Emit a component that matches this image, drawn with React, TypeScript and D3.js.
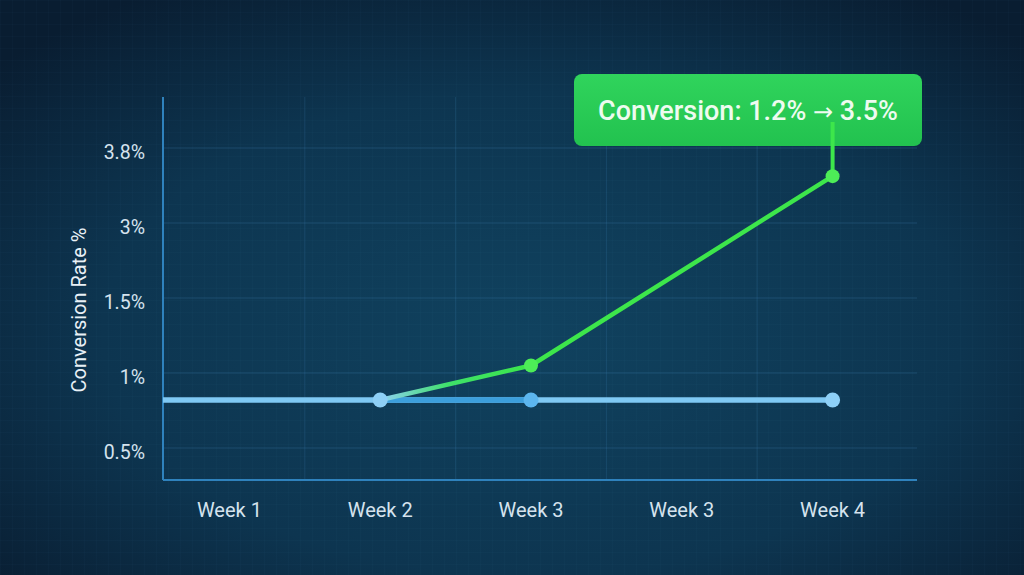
import React, { useEffect, useRef } from "react";
import * as d3 from "d3";

const weeks = ["Week 1", "Week 2", "Week 3", "Week 3", "Week 4"];
const yTicks = [0.5, 1, 1.5, 3, 3.8];
const baselineValues = [0.82, 0.82, 0.82, 0.82, 0.82];
const baselineMarked = [false, true, true, false, true];
const improvedValues = [null, 0.82, 1.05, null, 3.5];
const annotationParts = ["Conversion: 1.2% ", "\u2192", " 3.5%"];
const yLabel = "Conversion Rate %";

const App = () => {
    const svgRef = useRef<SVGSVGElement>(null);

    useEffect(() => {
        const svg = d3.select(svgRef.current);
        svg.selectAll("*").remove();

        const width = 1024;
        const height = 575;
        const plot = { left: 163, right: 917, top: 97, bottom: 480 };
        const font = "Roboto, 'Noto Sans', sans-serif";

        svg.attr("width", width).attr("height", height);

        // Background
        const defs = svg.append("defs");
        const bg = defs.append("radialGradient").attr("id", "bg")
            .attr("cx", "52%").attr("cy", "58%").attr("r", "70%");
        bg.append("stop").attr("offset", "0%").attr("stop-color", "#10425f");
        bg.append("stop").attr("offset", "60%").attr("stop-color", "#0d3550");
        bg.append("stop").attr("offset", "100%").attr("stop-color", "#091d31");

        const fine = defs.append("pattern").attr("id", "fine")
            .attr("width", 12).attr("height", 12).attr("patternUnits", "userSpaceOnUse");
        fine.append("path").attr("d", "M12 0 L0 0 0 12")
            .attr("fill", "none").attr("stroke", "#5aa8d8").attr("stroke-opacity", 0.04);

        const segGrad = defs.append("linearGradient").attr("id", "seg")
            .attr("gradientUnits", "userSpaceOnUse");

        const boxGrad = defs.append("linearGradient").attr("id", "boxg")
            .attr("x1", 0).attr("x2", 0).attr("y1", 0).attr("y2", 1);
        boxGrad.append("stop").attr("offset", "0%").attr("stop-color", "#30d45c");
        boxGrad.append("stop").attr("offset", "100%").attr("stop-color", "#22c24f");

        svg.append("rect").attr("width", width).attr("height", height).attr("fill", "url(#bg)");
        svg.append("rect").attr("width", width).attr("height", height).attr("fill", "url(#fine)");

        // Scales
        const x = d3.scaleBand<number>()
            .domain(d3.range(weeks.length))
            .range([154, 908]);
        const cx = (i: number) => (x(i) as number) + x.bandwidth() / 2;

        // tick labels are evenly spaced, so the y scale is piecewise linear
        const y = d3.scaleLinear()
            .domain([0.29, ...yTicks, 4.34])
            .range([480, 448, 373, 298, 223, 148, 97]);

        // Grid
        const grid = svg.append("g");
        grid.selectAll("line.h").data(yTicks).join("line")
            .attr("x1", plot.left).attr("x2", plot.right)
            .attr("y1", (d) => y(d)).attr("y2", (d) => y(d))
            .attr("stroke", "#3f86b8").attr("stroke-opacity", 0.28).attr("stroke-width", 1);
        grid.selectAll("line.v").data(d3.range(1, weeks.length)).join("line")
            .attr("x1", (i) => x(i) as number).attr("x2", (i) => x(i) as number)
            .attr("y1", plot.top).attr("y2", plot.bottom)
            .attr("stroke", "#3f86b8").attr("stroke-opacity", 0.2).attr("stroke-width", 1);

        // Axes lines
        svg.append("line")
            .attr("x1", plot.left).attr("x2", plot.left)
            .attr("y1", plot.top).attr("y2", plot.bottom)
            .attr("stroke", "#2f82bd").attr("stroke-width", 2);
        svg.append("line")
            .attr("x1", plot.left).attr("x2", plot.right)
            .attr("y1", plot.bottom).attr("y2", plot.bottom)
            .attr("stroke", "#2f82bd").attr("stroke-width", 2);

        // Tick labels
        svg.append("g").selectAll("text").data(yTicks).join("text")
            .attr("x", 145)
            .attr("y", (d) => y(d) + 11)
            .attr("text-anchor", "end")
            .style("font-family", font)
            .style("font-size", "19.5px")
            .attr("fill", "#d5e3ee")
            .text((d) => `${d}%`);

        svg.append("g").selectAll("text").data(weeks).join("text")
            .attr("x", (_, i) => cx(i))
            .attr("y", 517)
            .attr("text-anchor", "middle")
            .style("font-family", font)
            .style("font-size", "20px")
            .attr("fill", "#d5e3ee")
            .text((d) => d);

        svg.append("text")
            .attr("transform", `translate(86, 310) rotate(-90)`)
            .attr("text-anchor", "middle")
            .style("font-family", font)
            .style("font-size", "20px")
            .attr("fill", "#e8f0f6")
            .text(yLabel);

        // Baseline (blue)
        const blueLine = d3.line<[number, number]>().x((d) => d[0]).y((d) => d[1]);
        const bluePts: [number, number][] = baselineValues.map((v, i) => [cx(i), y(v)]);
        bluePts[0] = [plot.left, y(baselineValues[0])];
        svg.append("path")
            .attr("d", blueLine(bluePts))
            .attr("fill", "none")
            .attr("stroke", "#7fc9f4")
            .attr("stroke-width", 5.5);
        // darker segment between Week 2 and Week 3
        svg.append("path")
            .attr("d", blueLine([bluePts[1], bluePts[2]]))
            .attr("fill", "none")
            .attr("stroke", "#3c9fdc")
            .attr("stroke-width", 5.5);

        // Improved (green)
        const greenData = improvedValues
            .map((v, i) => ({ i, v }))
            .filter((d) => d.v !== null) as { i: number; v: number }[];
        segGrad.attr("x1", cx(greenData[0].i)).attr("x2", cx(greenData[1].i))
            .attr("y1", 0).attr("y2", 0);
        segGrad.append("stop").attr("offset", "0%").attr("stop-color", "#8fd0f4");
        segGrad.append("stop").attr("offset", "45%").attr("stop-color", "#3fe06a");
        segGrad.append("stop").attr("offset", "100%").attr("stop-color", "#3be64a");

        const greenLine = d3.line<{ i: number; v: number }>()
            .x((d) => cx(d.i)).y((d) => y(d.v));
        svg.append("path")
            .attr("d", greenLine(greenData.slice(0, 2)))
            .attr("fill", "none")
            .attr("stroke", "url(#seg)")
            .attr("stroke-width", 4.5)
            .attr("stroke-linecap", "round");
        svg.append("path")
            .attr("d", greenLine(greenData.slice(1)))
            .attr("fill", "none")
            .attr("stroke", "#3de64b")
            .attr("stroke-width", 4.5)
            .attr("stroke-linecap", "round");

        // Blue points
        const bluePoints = baselineValues
            .map((v, i) => ({ i, v }))
            .filter((d) => baselineMarked[d.i]);
        svg.append("g").selectAll("circle").data(bluePoints).join("circle")
            .attr("cx", (d) => cx(d.i))
            .attr("cy", (d) => y(d.v))
            .attr("r", 7.5)
            .attr("fill", (d) => (d.i === 2 ? "#5cb6ef" : "#8ed0f7"));

        // Annotation
        const last = greenData[greenData.length - 1];
        const box = { x: 574, y: 74, w: 348, h: 72 };
        svg.append("rect")
            .attr("x", box.x).attr("y", box.y)
            .attr("width", box.w).attr("height", box.h)
            .attr("rx", 8)
            .attr("fill", "url(#boxg)");
        svg.append("line")
            .attr("x1", cx(last.i)).attr("x2", cx(last.i))
            .attr("y1", y(last.v)).attr("y2", box.y + 48)
            .attr("stroke", "#3de64b").attr("stroke-width", 4);
        const label = svg.append("text")
            .attr("x", box.x + box.w / 2)
            .attr("y", box.y + box.h / 2 + 10)
            .attr("text-anchor", "middle")
            .style("font-family", font)
            .style("font-size", "27px")
            .style("font-weight", 500)
            .attr("fill", "#eefbf0");
        annotationParts.forEach((part, k) => {
            const t = label.append("tspan").text(part);
            if (k === 1) t.style("font-family", "'DejaVu Sans', sans-serif").style("font-size", "24px");
        });

        // Green points
        svg.append("g").selectAll("circle").data(greenData.slice(1)).join("circle")
            .attr("cx", (d) => cx(d.i))
            .attr("cy", (d) => y(d.v))
            .attr("r", 7)
            .attr("fill", "#4ded57");
    }, []);

    return (
        <svg ref={svgRef} style={{ position: "absolute", left: 0, top: 0, display: "block" }}></svg>
    );
};

export default App;
